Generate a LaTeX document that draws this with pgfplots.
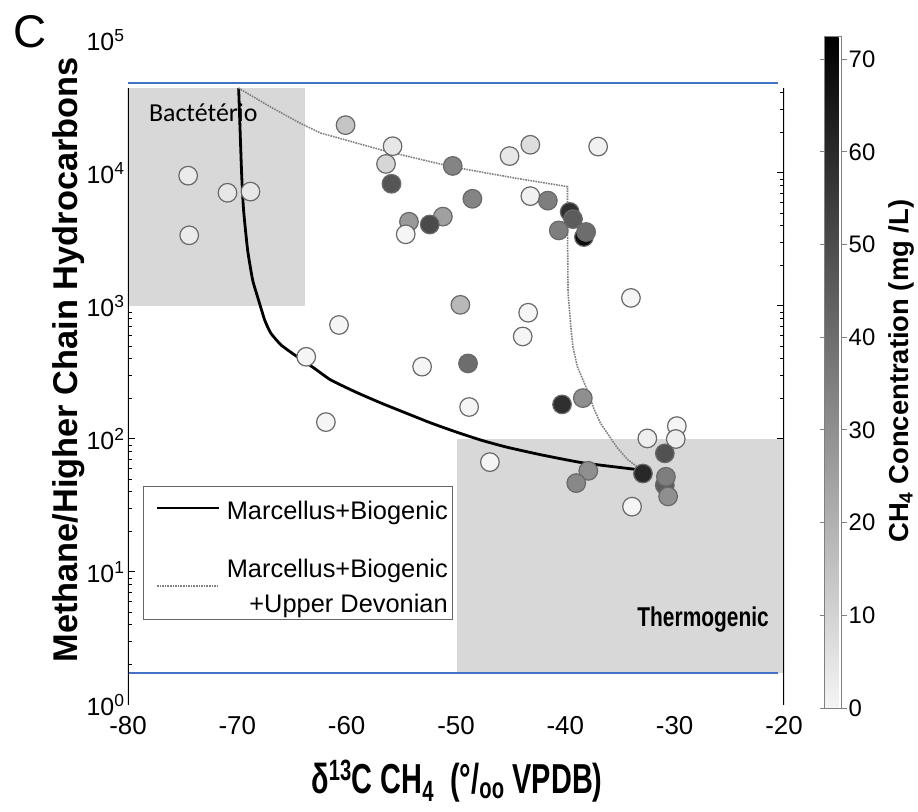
\documentclass[border=0pt]{standalone}
\usepackage{graphicx}
\usepackage{pgfplots}
\usepackage{pgfplotstable}
\pgfplotsset{compat=1.18}
\usepackage{fontspec}
\setmainfont{Liberation Sans}
\newfontfamily\calibri{Carlito}
\definecolor{boxgray}{RGB}{216,216,216}
\definecolor{blueline}{RGB}{68,114,196}
\definecolor{edgegray}{RGB}{105,105,105}
\newcommand{\fs}[1]{\fontsize{#1}{#1}\selectfont}

\pgfplotstableread{
x y c
-74.5 9550 3
-70.9 7100 4
-68.8 7250 4
-74.4 3400 3
-60.1 22900 14
-55.8 15900 4
-56.4 11700 9
-55.9 8300 47
-50.3 11300 33
-48.5 6400 33
-54.3 4300 27
-51.2 4700 25
-52.4 4100 50
-54.6 3460 0
-45.1 13400 4
-43.2 16300 7
-37.0 15800 1
-43.2 6700 1
-41.6 6200 35
-39.6 5100 58
-39.3 4500 45
-40.6 3700 35
-38.3 3300 68
-38.1 3600 40
-49.6 1020 18
-43.4 890 0
-43.9 590 0
-60.7 720 0
-48.9 370 40
-53.1 350 0
-63.7 415 0
-48.8 174 0
-61.9 134 0
-40.3 182 58
-38.4 203 30
-46.9 67 0
-37.9 57.6 30
-39.0 46.6 32
-32.9 55 60
-33.9 31 0
-32.5 101 2
-29.8 125 0
-29.9 100 2
-30.9 78 48
-30.9 45 45
-30.8 52 35
-30.6 37 30
-34.0 1150 0
}\circles

\begin{document}
\begin{tikzpicture}
\useasboundingbox (-128bp,-107bp) rectangle (790bp,705bp);
\begin{axis}[
  at={(0bp,0bp)}, anchor=south west,
  scale only axis, width=656bp, height=665bp,
  ymode=log,
  xmin=-80, xmax=-20, ymin=1, ymax=100000,
  axis line style={draw=none},
  xtick={-80,-70,-60,-50,-40,-30,-20},
  xticklabels={-80,-70,-60,-50,-40,-30,-20},
  xtick style={draw=none},
  xticklabel style={font=\fs{26}, yshift=-8bp},
  ytick={10,100,1000,10000},
  yticklabels={10\textsuperscript{1},10\textsuperscript{2},10\textsuperscript{3},10\textsuperscript{4}},
  extra y ticks={1,100000},
  extra y tick labels={10\textsuperscript{0},10\textsuperscript{5}},
  extra y tick style={tick style={draw=none}},
  minor ytick={2,3,4,5,6,7,8,9,20,30,40,50,60,70,80,90,200,300,400,500,600,700,800,900,2000,3000,4000,5000,6000,7000,8000,9000,20000,30000,40000},
  yticklabel style={font=\fs{25}},
  ytick pos=both, yticklabel pos=left,
  major tick length=7bp, minor tick length=4bp,
  tick style={black, line width=1bp},
  xlabel={\scalebox{1}[1.45]{\bfseries δ\textsuperscript{13}C CH\textsubscript{4}\ \ (°/\textsubscript{oo} VPDB)}},
  xlabel style={font=\fs{29}, at={(axis description cs:0.5015,-0.1143)}, anchor=center},
  ylabel={\bfseries Methane/Higher Chain Hydrocarbons},
  ylabel style={font=\fs{34.5}, at={(axis description cs:-0.091,0.519)}, anchor=center},
  colormap={cgray}{gray(0cm)=(0.96); gray(1cm)=(0)},
  point meta min=0, point meta max=72.4,
]
% shaded regions
\fill[boxgray] (axis cs:-80,1000) rectangle (axis cs:-63.8,43600);
\fill[boxgray] (axis cs:-49.9,1.74) rectangle (axis cs:-20,100);
% blue lines
\draw[blueline, line width=2bp] (axis cs:-80,47500) -- (axis cs:-20.55,47500);
\draw[blueline, line width=2bp] (axis cs:-80,1.74) -- (axis cs:-20.55,1.74);
% axis side lines
\draw[black, line width=1.3bp] (axis cs:-80,1) -- (axis cs:-80,43600);
\draw[black, line width=1.3bp] (axis cs:-20,1) -- (axis cs:-20,43600);

\node[anchor=west, font=\calibri\fs{26}] at (axis cs:-78.4,28200) {Bactétério};
\node[font=\bfseries\fs{21}] at (axis cs:-27.4,4.36) {\scalebox{1}[1.3]{Thermogenic}};

% Marcellus + Biogenic mixing curve
\addplot[black, line width=2.8bp, smooth, tension=0.3] coordinates {
(-69.88,43550) (-69.61,10000) (-69.43,5270) (-69.06,2640) (-68.6,1567) (-68.06,1109)
(-67.5,785) (-66.95,627) (-66.0,509) (-64.5,414) (-63.0,342) (-61.46,278) (-59.2,226)
(-56.9,187) (-54.6,157) (-52.3,132) (-50.0,113) (-47.7,98) (-45.4,87) (-42.2,76)
(-38.3,66) (-33.1,58.5)};

% Marcellus + Biogenic + Upper Devonian mixing curve
\addplot[gray, densely dotted, line width=1.6bp] coordinates {
(-69.9,43500) (-67.0,31500) (-64.3,23800) (-62.4,20000) (-56.7,14800) (-50.3,11100)
(-44.4,9100) (-39.8,7900) (-39.8,3540) (-39.75,1260) (-39.5,700) (-39.3,490) (-38.9,350)
(-38.0,234) (-37.4,170) (-36.8,132) (-35.3,87) (-34.3,70) (-33.2,60)};

\addplot[scatter, only marks, mark=*, mark size=9.3bp, line width=1.2bp,
  scatter src=explicit, scatter/use mapped color={draw=edgegray, fill=mapped color}]
  table[x=x, y=y, meta=c] {\circles};
\end{axis}
% colour bar (drawn from a hidden helper axis of the same size)
\begin{axis}[
  at={(0bp,0bp)}, anchor=south west,
  scale only axis, width=656bp, height=665bp,
  hide axis, xmin=0, xmax=1, ymin=0, ymax=1,
  colormap={cgray}{gray(0cm)=(0.96); gray(1cm)=(0)},
  point meta min=0, point meta max=72.4,
  colorbar,
  colorbar style={
    at={(parent axis.south east)}, anchor=south west, xshift=32bp, yshift=-3bp,
    scale only axis, width=17bp, height=671bp,
    ymin=0, ymax=72.4,
    ytick={0,10,20,30,40,50,60,70},
    yticklabels={0,10,20,30,40,50,60,70},
    xtick=\empty,
    ytick pos=both, yticklabel pos=right,
    tick align=outside, major tick length=5bp,
    axis line style={draw=gray, line width=1bp},
    tick style={gray, line width=1bp},
    yticklabel style={font=\fs{24}, inner xsep=2bp},
    ylabel={\bfseries CH\textsubscript{4} Concentration (mg /L)},
    ylabel style={font=\fs{27.5}, at={(axis description cs:4.5,0.502)}, anchor=center},
  },
]
\addplot[draw=none, forget plot] coordinates {(0.5,0.5)};
\end{axis}
% legend
\draw[gray!80!black, line width=1bp, fill=white] (15bp,85bp) rectangle (324bp,218bp);
\draw[black, line width=2.8bp] (29bp,197bp) -- (91bp,197bp);
\node[anchor=base east, font=\fs{25.5}, inner sep=0pt] at (320bp,185.9bp) {Marcellus+Biogenic};
\draw[gray, densely dotted, line width=1.6bp] (29bp,119bp) -- (91bp,119bp);
\node[anchor=base east, font=\fs{25.5}, inner sep=0pt] at (320bp,127.9bp) {Marcellus+Biogenic};
\node[anchor=base east, font=\fs{25.5}, inner sep=0pt] at (320bp,92.9bp) {+Upper Devonian};
\node[font=\fs{46}] at (-98bp,673bp) {C};
\end{tikzpicture}
\end{document}
